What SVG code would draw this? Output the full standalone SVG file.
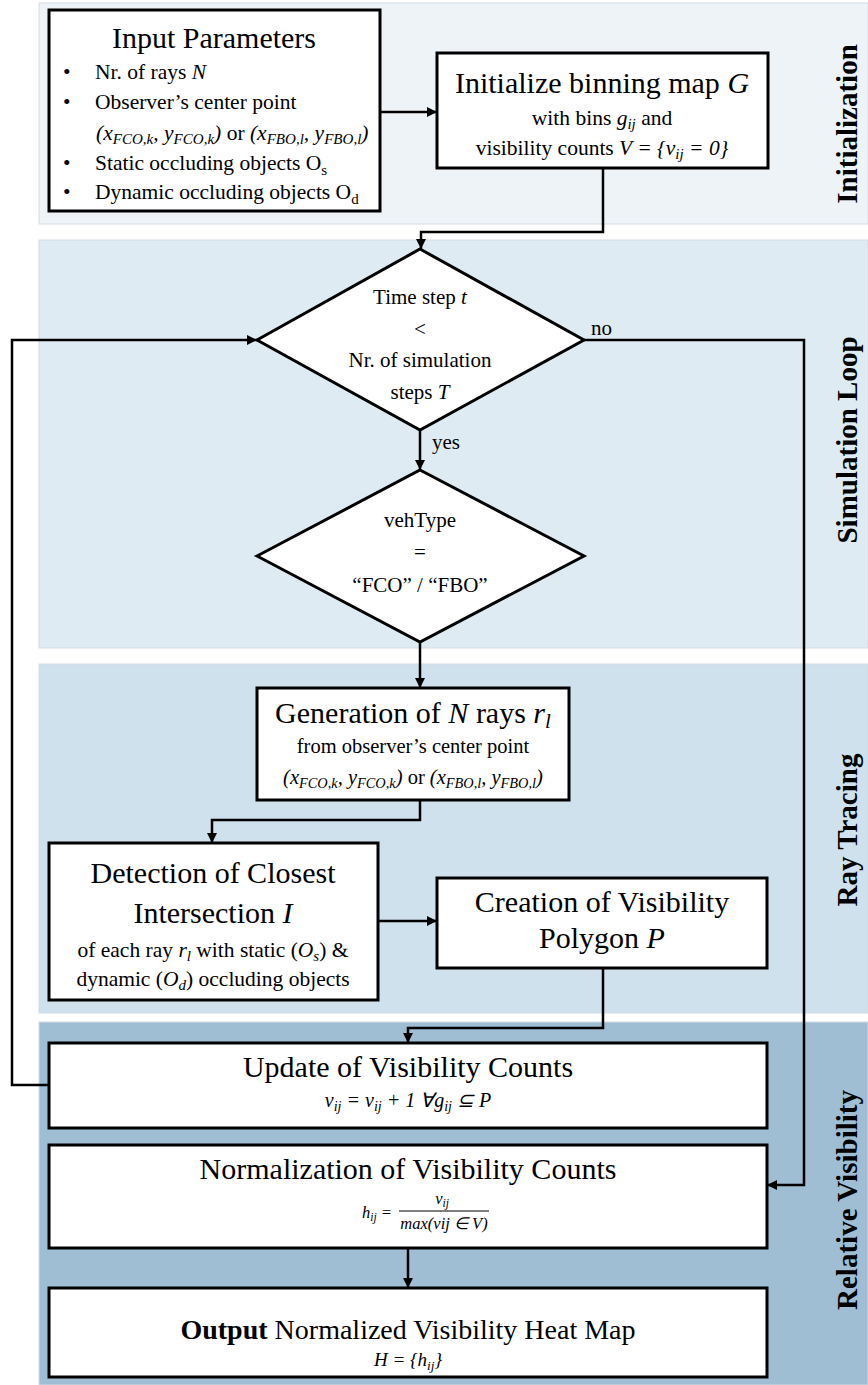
<svg xmlns="http://www.w3.org/2000/svg" width="868" height="1385" viewBox="0 0 868 1385">
<style>
text{font-family:"Liberation Serif","Times New Roman",serif;fill:#000}
.t{font-size:30px;text-anchor:middle}
.t28{font-size:28px;text-anchor:middle}
.b{font-size:21.5px}
.c{font-size:21.5px;text-anchor:middle}
.g{font-size:20.5px;text-anchor:middle}
.d{font-size:21px;text-anchor:middle}
.e{font-size:21px;text-anchor:start}
.f{font-size:20px;text-anchor:middle;font-style:italic}
.f19{font-size:19px;text-anchor:middle;font-style:italic}
.n{font-size:16.5px;text-anchor:middle;font-style:italic}
.i{font-style:italic}
.s{font-size:70%}
.lab{font-size:29px;font-weight:bold;text-anchor:middle}
.box{fill:#fff;stroke:#000;stroke-width:3}
.con{fill:none;stroke:#000;stroke-width:2.5}
.band{stroke:#d3dbe3;stroke-width:1}
</style>
<defs>
<marker id="ah" viewBox="0 0 10 10" refX="10" refY="5" markerWidth="11" markerHeight="10" markerUnits="userSpaceOnUse" orient="auto">
<path d="M0,0 L10,5 L0,10 z" fill="#000"/>
</marker>
</defs>
<g id="bands">
<rect class="band" x="39" y="3" width="829" height="221" fill="#eef3f8"/>
<rect class="band" x="39" y="240" width="829" height="408" fill="#deebf3"/>
<rect class="band" x="39" y="664" width="829" height="349" fill="#cfe1ec"/>
<rect class="band" x="39" y="1022" width="829" height="363" fill="#9fbdd3"/>
<text class="lab" transform="translate(857,124) rotate(-90)">Initialization</text>
<text class="lab" transform="translate(857,440) rotate(-90)">Simulation Loop</text>
<text class="lab" transform="translate(857,830) rotate(-90)">Ray Tracing</text>
<text class="lab" transform="translate(857,1200) rotate(-90)">Relative Visibility</text>
</g>
<g id="connectors">
<path class="con" d="M380,112 L437,112" marker-end="url(#ah)"/>
<path class="con" d="M603,168 L603,232 L421,232 L421,249" marker-end="url(#ah)"/>
<path class="con" d="M420,430 L420,470" marker-end="url(#ah)"/>
<path class="con" d="M420,642 L420,688" marker-end="url(#ah)"/>
<path class="con" d="M420,800 L420,820 L212,820 L212,843" marker-end="url(#ah)"/>
<path class="con" d="M378,921 L437,921" marker-end="url(#ah)"/>
<path class="con" d="M603,968 L603,1028 L408,1028 L408,1043" marker-end="url(#ah)"/>
<path class="con" d="M408,1248 L408,1288" marker-end="url(#ah)"/>
<path class="con" d="M584,340 L804,340 L804,1185 L767,1185" marker-end="url(#ah)"/>
<path class="con" d="M49,1085 L12,1085 L12,340 L257,340" marker-end="url(#ah)"/>
<text class="e" x="591" y="335">no</text>
<text class="e" x="432" y="449">yes</text>
</g>
<g id="input">
<rect class="box" x="49" y="10" width="331" height="201"/>
<text class="t" x="214" y="48">Input Parameters</text>
<g class="b">
<text x="63" y="79">•</text><text x="95" y="79">Nr. of rays <tspan class="i">N</tspan></text>
<text x="63" y="109">•</text><text x="95" y="109">Observer’s center point</text>
<text x="96" y="140"><tspan class="i">(x</tspan><tspan class="i s" dy="4">FCO,k</tspan><tspan class="i" dy="-4">, y</tspan><tspan class="i s" dy="4">FCO,k</tspan><tspan class="i" dy="-4">)</tspan> or <tspan class="i">(x</tspan><tspan class="i s" dy="4">FBO,l</tspan><tspan class="i" dy="-4">, y</tspan><tspan class="i s" dy="4">FBO,l</tspan><tspan class="i" dy="-4">)</tspan></text>
<text x="63" y="170">•</text><text x="95" y="170">Static occluding objects O<tspan class="s" dy="5">s</tspan></text>
<text x="63" y="199">•</text><text x="95" y="199">Dynamic occluding objects O<tspan class="s" dy="5">d</tspan></text>
</g>
</g>
<g id="init">
<rect class="box" x="437" y="53" width="331" height="115"/>
<text class="t" x="602" y="93">Initialize binning map <tspan class="i">G</tspan></text>
<text class="c" x="602" y="125">with bins <tspan class="i">g</tspan><tspan class="i s" dy="4">ij</tspan><tspan dy="-4"> and</tspan></text>
<text class="c" x="602" y="155">visibility counts <tspan class="i">V = {v</tspan><tspan class="i s" dy="4">ij</tspan><tspan class="i" dy="-4"> = 0}</tspan></text>
</g>
<g id="timestep">
<path class="box" d="M420,249 L584,340 L420,430 L257,340 Z"/>
<text class="d" x="420" y="304">Time step <tspan class="i">t</tspan></text>
<text class="d" x="420" y="336">&lt;</text>
<text class="d" x="420" y="367">Nr. of simulation</text>
<text class="d" x="420" y="399">steps <tspan class="i">T</tspan></text>
</g>
<g id="vehtype">
<path class="box" d="M420,470 L584,556 L420,642 L257,556 Z"/>
<text class="d" x="420" y="527">vehType</text>
<text class="d" x="420" y="559">=</text>
<text class="d" x="420" y="592">“FCO” / “FBO”</text>
</g>
<g id="generation">
<rect class="box" x="257" y="688" width="312" height="112"/>
<text class="t" x="413" y="723">Generation of <tspan class="i">N</tspan> rays <tspan class="i">r</tspan><tspan class="i s" dy="5">l</tspan></text>
<text class="g" x="413" y="753">from observer’s center point</text>
<text class="g" x="413" y="784"><tspan class="i">(x</tspan><tspan class="i s" dy="4">FCO,k</tspan><tspan class="i" dy="-4">, y</tspan><tspan class="i s" dy="4">FCO,k</tspan><tspan class="i" dy="-4">)</tspan> or <tspan class="i">(x</tspan><tspan class="i s" dy="4">FBO,l</tspan><tspan class="i" dy="-4">, y</tspan><tspan class="i s" dy="4">FBO,l</tspan><tspan class="i" dy="-4">)</tspan></text>
</g>
<g id="detection">
<rect class="box" x="49" y="843" width="329" height="157"/>
<text class="t" x="213" y="883">Detection of Closest</text>
<text class="t" x="213" y="923">Intersection <tspan class="i">I</tspan></text>
<text class="c" x="213" y="957">of each ray <tspan class="i">r</tspan><tspan class="i s" dy="4">l</tspan><tspan dy="-4"> with static (</tspan><tspan class="i">O</tspan><tspan class="i s" dy="4">s</tspan><tspan dy="-4">) &amp;</tspan></text>
<text class="c" x="213" y="986">dynamic (<tspan class="i">O</tspan><tspan class="i s" dy="4">d</tspan><tspan dy="-4">) occluding objects</tspan></text>
</g>
<g id="creation">
<rect class="box" x="437" y="878" width="330" height="90"/>
<text class="t" x="602" y="912">Creation of Visibility</text>
<text class="t" x="602" y="948">Polygon <tspan class="i">P</tspan></text>
</g>
<g id="update">
<rect class="box" x="49" y="1043" width="718" height="85"/>
<text class="t" x="408" y="1077">Update of Visibility Counts</text>
<text class="f" x="408" y="1107">v<tspan class="s" dy="4">ij</tspan><tspan dy="-4"> = v</tspan><tspan class="s" dy="4">ij</tspan><tspan dy="-4"> + 1 ∀g</tspan><tspan class="s" dy="4">ij</tspan><tspan dy="-4"> ⊆ P</tspan></text>
</g>
<g id="normalization">
<rect class="box" x="49" y="1145" width="718" height="103"/>
<text class="t" x="408" y="1179">Normalization of Visibility Counts</text>
<text class="n" x="377" y="1218">h<tspan class="s" dy="3">ij</tspan><tspan dy="-3"> =</tspan></text>
<text class="n" x="442" y="1204">v<tspan class="s" dy="3">ij</tspan></text>
<line x1="399" y1="1211" x2="489" y2="1211" stroke="#000" stroke-width="1"/>
<text class="n" x="444" y="1229">max(vij ∈ V)</text>
</g>
<g id="output">
<rect class="box" x="49" y="1288" width="718" height="89"/>
<text class="t28" x="408" y="1339"><tspan font-weight="bold">Output</tspan> Normalized Visibility Heat Map</text>
<text class="f19" x="408" y="1366">H = {h<tspan class="s" dy="4">ij</tspan><tspan dy="-4">}</tspan></text>
</g>
</svg>
